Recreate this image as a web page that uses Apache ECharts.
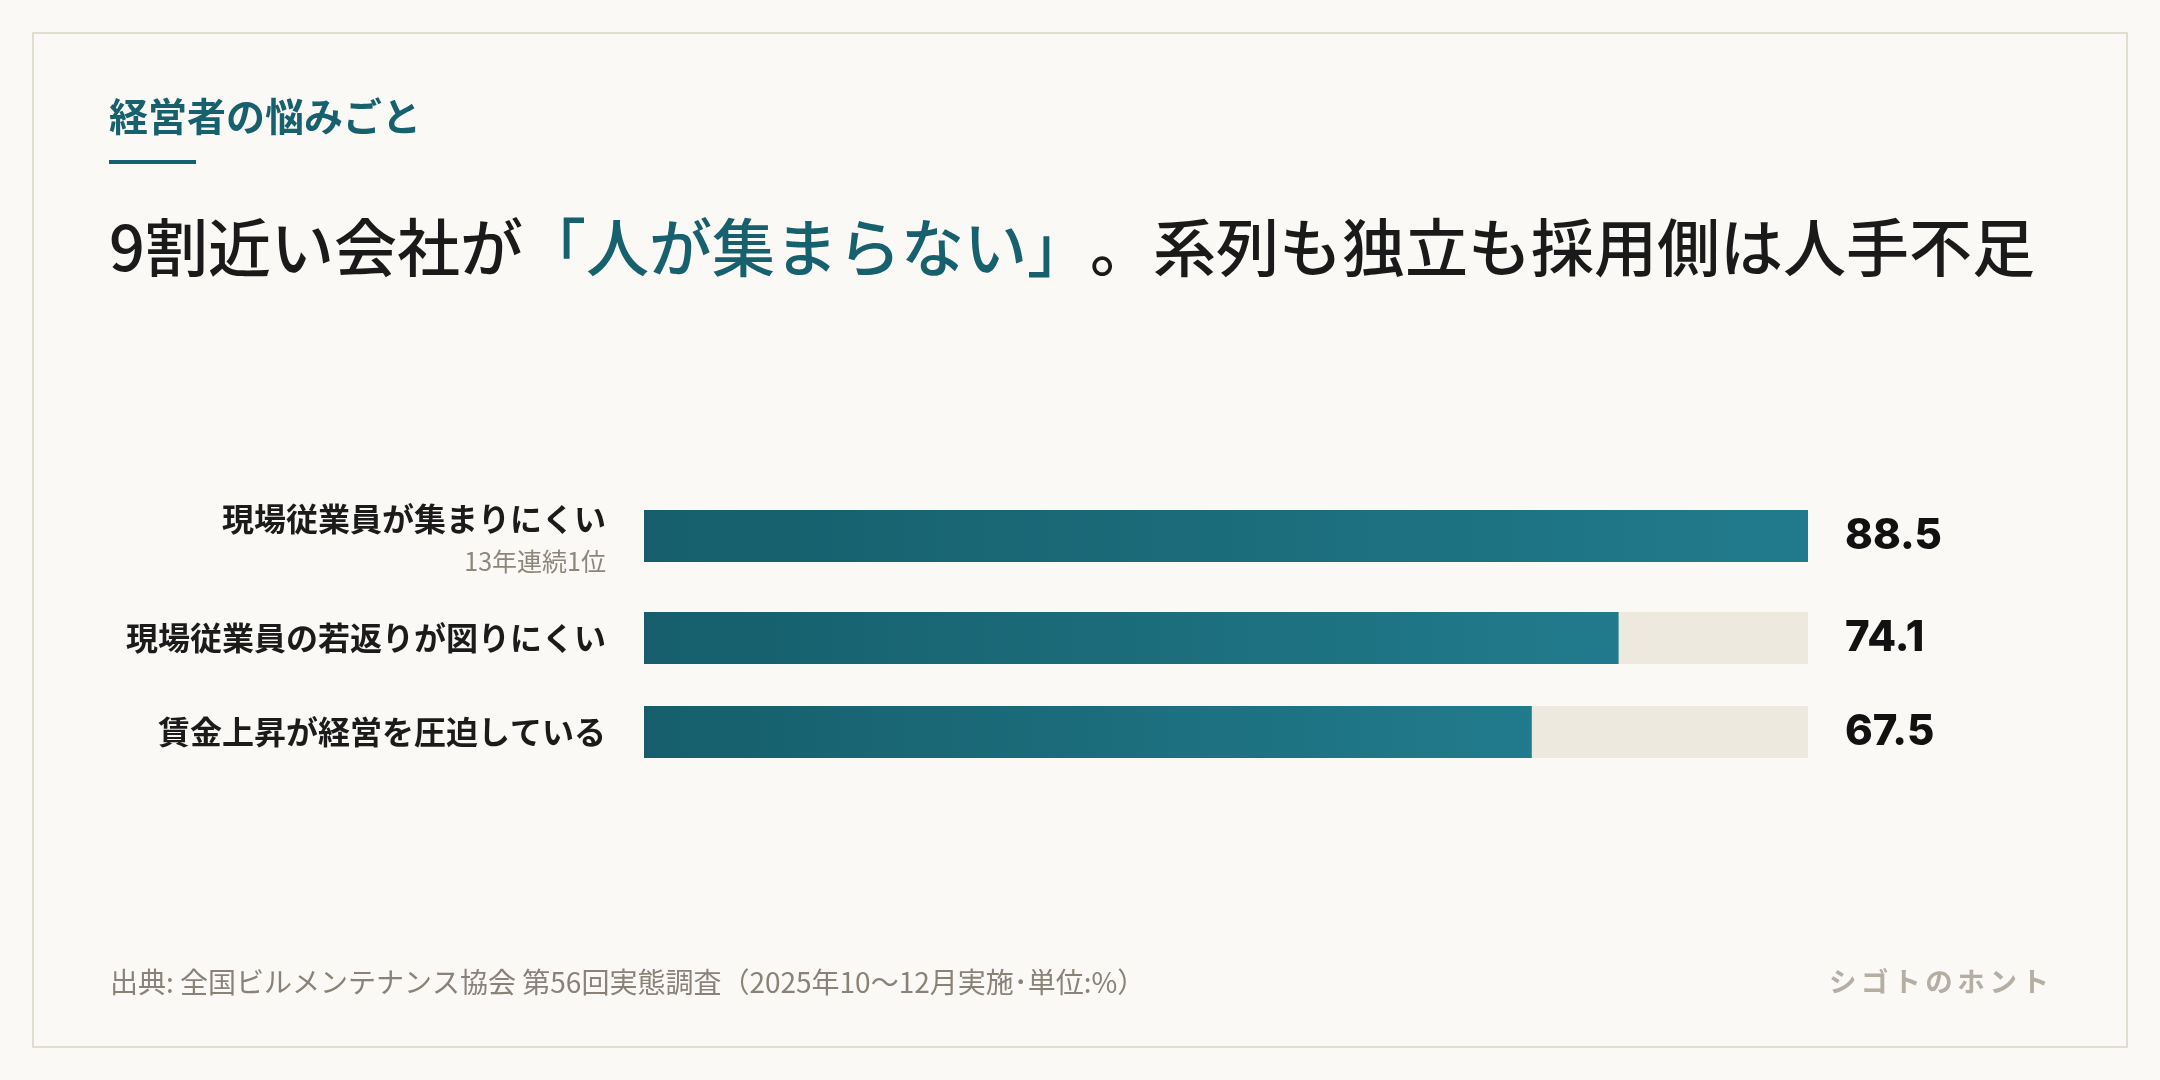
<!DOCTYPE html>
<html><head><meta charset="utf-8">
<script src="https://cdn.jsdelivr.net/npm/echarts@6/dist/echarts.min.js"></script>
<style>html,body{margin:0;padding:0;background:#faf9f5;}#c{width:2160px;height:1080px;}</style>
</head><body><div id="c"></div>
<script>
const categories = ['現場従業員が集まりにくい', '現場従業員の若返りが図りにくい', '賃金上昇が経営を圧迫している'];
const subLabels = ['13年連続1位', '', ''];
const values = [88.5, 74.1, 67.5];
const valueLabels = ['88.5', '74.1', '67.5'];
const kicker = '経営者の悩みごと';
const titleParts = ['9割近い会社が', '「人が集まらない」', '。系列も独立も採用側は人手不足'];
const sourceText = '出典: 全国ビルメンテナンス協会 第56回実態調査（2025年10〜12月実施･単位:%）';
const brand = 'シゴトのホント';

const JP = '"Noto Sans CJK JP", "Noto Sans", sans-serif';
const TEAL = '#17616e';
const maxVal = Math.max(...values);
const rowTops = [510, 612, 706];
const barH = 52;

const grids = [], xAxes = [], yAxes = [], series = [];
categories.forEach((cat, i) => {
  grids.push({ left: 644, right: 352, top: rowTops[i], height: barH, containLabel: false });
  xAxes.push({ type: 'value', gridIndex: i, min: 0, max: maxVal, show: false });
  yAxes.push({
    type: 'category', gridIndex: i, data: [cat], position: 'left',
    axisLine: { show: false }, axisTick: { show: false },
    axisLabel: {
      margin: 38, align: 'right', verticalAlign: 'middle',
      formatter: (v) => subLabels[i] ? '{m|' + v + '}\n{s|' + subLabels[i] + '}' : '{m|' + v + '}',
      rich: {
        m: { fontFamily: JP, fontSize: 32, fontWeight: 'bold', color: '#1b1b1b', lineHeight: subLabels[i] ? 51 : 40, align: 'right' },
        s: { fontFamily: JP, fontSize: 25, color: '#8d867b', lineHeight: 34, align: 'right' }
      }
    }
  });
  yAxes.push({
    type: 'category', gridIndex: i, data: [valueLabels[i]], position: 'right',
    axisLine: { show: false }, axisTick: { show: false },
    axisLabel: { margin: 37, align: 'left', verticalAlign: 'middle', fontFamily: 'Inter, "Noto Sans", sans-serif', fontWeight: 800, fontSize: 42, color: '#111111' }
  });
  series.push({
    type: 'bar', xAxisIndex: i, yAxisIndex: i * 2, data: [values[i]], barWidth: barH,
    showBackground: true, backgroundStyle: { color: '#ede9df' },
    itemStyle: { color: new echarts.graphic.LinearGradient(0, 0, 1, 0, [{ offset: 0, color: '#165e6b' }, { offset: 1, color: '#217b8c' }]) },
    silent: true, animation: false
  });
});

const chart = echarts.init(document.getElementById('c'), null, { renderer: 'canvas' });
chart.setOption({
  backgroundColor: '#faf9f5',
  animation: false,
  grid: grids, xAxis: xAxes, yAxis: yAxes, series: series,
  graphic: [
    { type: 'rect', shape: { x: 33, y: 33, width: 2094, height: 1014 }, style: { fill: '#faf9f5', stroke: '#e2ddd1', lineWidth: 2 }, z: -10 },
    { type: 'text', x: 109, y: 116, style: { text: kicker, fontFamily: JP, fontSize: 39, fontWeight: 'bold', fill: TEAL, verticalAlign: 'middle' } },
    { type: 'rect', shape: { x: 109, y: 160, width: 87, height: 4 }, style: { fill: TEAL } },
    { type: 'text', x: 109, y: 247, style: {
        text: '{d|' + titleParts[0] + '}{h|' + titleParts[1] + '}{d|' + titleParts[2] + '}',
        verticalAlign: 'middle',
        rich: {
          d: { fontFamily: JP, fontSize: 63, fontWeight: 500, fill: '#1a1a1a' },
          h: { fontFamily: JP, fontSize: 63, fontWeight: 500, fill: TEAL }
        } } },
    { type: 'text', x: 110, y: 982, style: { text: sourceText, fontFamily: JP, fontSize: 28, fill: '#8a8276', verticalAlign: 'middle' } },
    { type: 'text', x: 2049, y: 982, style: { text: brand.split('').join('\u2006'), fontFamily: JP, fontSize: 27.5, fontWeight: 'bold', fill: '#b6aea2', align: 'right', verticalAlign: 'middle' } }
  ]
});
</script></body></html>
